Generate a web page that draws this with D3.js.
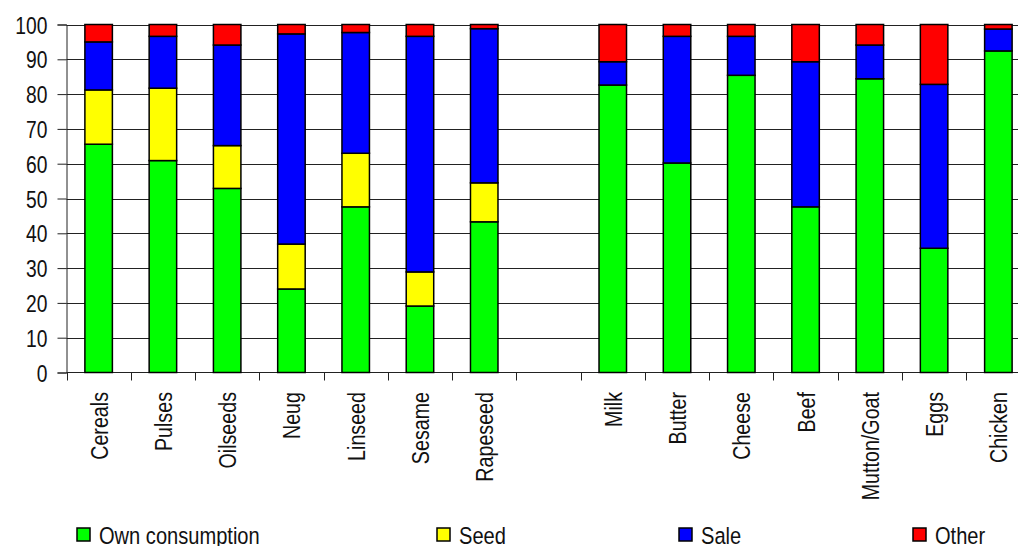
<!DOCTYPE html>
<html>
<head>
<meta charset="utf-8">
<script src="https://cdn.jsdelivr.net/npm/d3@7"></script>
<style>
  body { margin: 0; background: #fff; }
  svg { display: block; }
  text { font-family: "Liberation Sans", Arial, sans-serif; fill: #111; }
</style>
</head>
<body>
<div id="chart"></div>
<script>
// categories (blank slot separates crops from livestock products)
var categories = ['Cereals', 'Pulses', 'Oilseeds', 'Neug', 'Linseed', 'Sesame', 'Rapeseed', '',
                  'Milk', 'Butter', 'Cheese', 'Beef', 'Mutton/Goat', 'Eggs', 'Chicken'];
var seriesNames = ['Own consumption', 'Seed', 'Sale', 'Other'];
var seriesColors = ['#00ff00', '#ffff00', '#0000ff', '#ff0000'];

// percentages
var ownConsumption = [65.6, 60.9, 52.9, 24.0, 47.6, 19.1, 43.3, 0, 82.6, 60.2, 85.4, 47.6, 84.4, 35.7, 92.4];
var seed           = [15.6, 20.8, 12.3, 12.9, 15.4,  9.8, 11.2, 0,    0,    0,    0,    0,    0,    0,    0];
var sale           = [13.8, 14.9, 28.9, 60.4, 34.7, 67.7, 44.3, 0,  6.7, 36.4, 11.2, 41.7,  9.7, 47.1,  6.3];
var other          = [ 5.0,  3.4,  5.9,  2.7,  2.3,  3.4,  1.2, 0, 10.7,  3.4,  3.4, 10.7,  5.9, 17.2,  1.3];

var yTicks = [0, 10, 20, 30, 40, 50, 60, 70, 80, 90, 100];

var width = 1018, height = 546;
// plot area runs past the right edge of the picture, as in the original
var plot = {left: 66.5, right: 1030.5, top: 24.5, bottom: 372.5};
var narrow = 'scale(0.82,1)';   // no narrow font installed, squeeze Liberation Sans instead

var keys = ['own', 'seed', 'sale', 'other'];
var rows = categories.map(function(c, i) {
  return {cat: i, own: ownConsumption[i], seed: seed[i], sale: sale[i], other: other[i]};
});
var stacked = d3.stack().keys(keys)(rows);

var x = d3.scaleBand().domain(d3.range(categories.length)).range([plot.left, plot.right]).padding(0);
var y = d3.scaleLinear().domain([0, 100]).range([plot.bottom, plot.top]);
var barW = 27.5;

var svg = d3.select('#chart').append('svg')
  .attr('width', width)
  .attr('height', height);

// gridlines
svg.append('g').selectAll('line')
  .data(yTicks.filter(function(t) { return t > 0; }))
  .enter().append('line')
  .attr('x1', plot.left).attr('x2', plot.right)
  .attr('y1', function(d) { return Math.round(y(d)) + 0.5; })
  .attr('y2', function(d) { return Math.round(y(d)) + 0.5; })
  .attr('stroke', '#222').attr('stroke-width', 1);

// y axis (labels drawn by hand so they can be squeezed)
var yAxis = d3.axisLeft(y).tickValues(yTicks).tickSize(9).tickFormat('');
var gy = svg.append('g').attr('transform', 'translate(' + plot.left + ',0)').call(yAxis);
gy.select('.domain').attr('stroke', '#222');
gy.selectAll('.tick line').attr('stroke', '#222');
svg.append('g').selectAll('text')
  .data(yTicks)
  .enter().append('text')
  .attr('transform', function(d) { return 'translate(' + (plot.left - 19) + ',' + (y(d) + 9) + ') ' + narrow; })
  .attr('text-anchor', 'end')
  .attr('font-size', 23.5)
  .text(function(d) { return d; });

// x axis: ticks at band boundaries
var bounds = d3.range(categories.length + 1).map(function(i) { return plot.left + i * x.bandwidth(); });
svg.append('line')
  .attr('x1', plot.left).attr('x2', plot.right)
  .attr('y1', plot.bottom).attr('y2', plot.bottom)
  .attr('stroke', '#222');
svg.append('g').selectAll('line').data(bounds).enter().append('line')
  .attr('x1', function(d) { return Math.round(d) + 0.5; })
  .attr('x2', function(d) { return Math.round(d) + 0.5; })
  .attr('y1', plot.bottom).attr('y2', plot.bottom + 8)
  .attr('stroke', '#222');

// bars
svg.append('g').selectAll('g')
  .data(stacked)
  .enter().append('g')
  .attr('fill', function(d, i) { return seriesColors[i]; })
  .selectAll('rect')
  .data(function(d) { return d.filter(function(p) { return p[1] - p[0] > 0; }); })
  .enter().append('rect')
  .attr('x', function(d) { return x(d.data.cat) + x.bandwidth() / 2 - barW / 2; })
  .attr('y', function(d) { return y(d[1]); })
  .attr('width', barW)
  .attr('height', function(d) { return y(d[0]) - y(d[1]); })
  .attr('stroke', '#000').attr('stroke-width', 1.5);

// category labels
svg.append('g').selectAll('text')
  .data(categories)
  .enter().append('text')
  .attr('transform', function(d, i) {
    return 'translate(' + (x(i) + x.bandwidth() / 2 + 9) + ',392) rotate(-90) ' + narrow;
  })
  .attr('text-anchor', 'end')
  .attr('font-size', 24)
  .text(function(d) { return d; });

// legend
var legendX = [77, 437, 679, 913];
var lg = svg.append('g').selectAll('g')
  .data(seriesNames)
  .enter().append('g')
  .attr('transform', function(d, i) { return 'translate(' + legendX[i] + ',528)'; });
lg.append('rect')
  .attr('width', 13).attr('height', 13)
  .attr('fill', function(d, i) { return seriesColors[i]; })
  .attr('stroke', '#000').attr('stroke-width', 1.5);
lg.append('text')
  .attr('transform', 'translate(22,16) ' + narrow)
  .attr('font-size', 24.5)
  .text(function(d) { return d; });
</script>
</body>
</html>
